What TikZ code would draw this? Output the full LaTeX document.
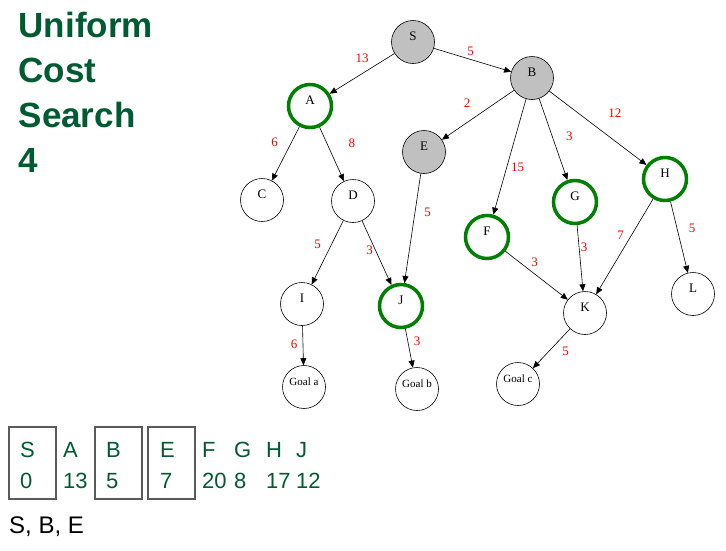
\documentclass[tikz,border=0pt]{standalone}
\usepackage{fontspec}
\setmainfont{Liberation Serif}
\newfontfamily\headfont{Liberation Sans}
\usetikzlibrary{positioning}
\usetikzlibrary{arrows.meta}
\definecolor{slidegreen}{RGB}{0,90,50}
\definecolor{ringgreen}{RGB}{0,128,0}
\definecolor{seengray}{RGB}{192,192,192}
\definecolor{boxgray}{RGB}{90,90,90}

\begin{document}
\begin{tikzpicture}[x=1pt, y=-1pt,
    tnode/.style={circle, draw, line width=0.6pt, minimum size=43pt, inner sep=0pt,
                  font=\fontsize{13}{13}\selectfont, text height=8pt, text depth=12pt},
    visited/.style={fill=seengray},
    frontier/.style={draw=ringgreen, line width=3.5pt},
    unseen/.style={},
    goal/.style={font=\fontsize{11}{11}\selectfont},
    link/.style={-{Triangle[length=7pt,width=6pt]}, line width=0.6pt},
    wlbl/.style={red, font=\fontsize{13}{13}\selectfont, inner sep=0pt},
    title/.style={slidegreen, font=\headfont\bfseries\fontsize{35}{35}\selectfont, inner sep=0pt},
    cell/.style={slidegreen, font=\headfont\fontsize{22}{22}\selectfont, inner sep=0pt}]

  \useasboundingbox (0,0) rectangle (726,550);

  % title
  \foreach \i/\word in {0/Uniform,1/Cost,2/Search,3/4} {
         \node[title, anchor=base west] (title\i) at (18.5, 37+45*\i) {\word};
  }

  % tree nodes
  \foreach \name/\x/\y/\kind/\txt in {S/413/42/visited/S, A/310/106/frontier/A,
        B/532/78/visited/B, E/424/152/visited/E, C/262/200/unseen/C, D/353/201/unseen/D,
        F/487/237/frontier/F, G/575/202/frontier/G, H/665/179/frontier/H,
        I/302/304/unseen/I, J/401/306/frontier/J, K/585/313/unseen/K, L/693/294/unseen/L,
        ga/304/387/goal/Goal a, gb/417/389/goal/Goal b, gc/518/384/goal/Goal c} {
         \node[tnode, \kind] (\name) at (\x,\y) {\txt};
  }

  % lines
  \foreach \a/\b/\w/\dx/\dy in {S/A/13/0/15, S/B/5/-2/9, A/C/6/-11/11, A/D/8/20/11,
        B/E/2/-11/12, B/F/15/8/-10, B/G/3/16/3, B/H/12/17/15, D/I/5/-10/8, D/J/3/-7/3,
        E/J/5/15/16, F/K/3/-2/13, G/K/3/4/11, H/K/7/-4/11, H/L/5/13/9, I/ga/6/-9/1,
        J/gb/3/8/7, K/gc/5/14/-3} {
         \draw[link] (\a) -- node[wlbl, xshift=\dx pt, yshift=\dy pt] {\w} (\b);
  }

  % queue
  \foreach \x/\top/\bot in {20/S/0, 63/A/13, 106/B/5, 160/E/7, 202/F/20, 234/G/8, 266/H/17, 296/J/12} {
         \node[cell, anchor=base west] (t\top) at (\x,457) {\top};
         \node[cell, anchor=base west] (n\top) at (\x,488) {\bot};
  }
  \foreach \l/\r in {9/56, 95/142, 148/195} {
         \draw[boxgray, line width=1.2pt] (\l,427) rectangle (\r,499);
  }

  \node[anchor=base west, font=\headfont\fontsize{24}{24}\selectfont, inner sep=0pt] (order) at (9,533) {S, B, E};

\end{tikzpicture}
\end{document}
